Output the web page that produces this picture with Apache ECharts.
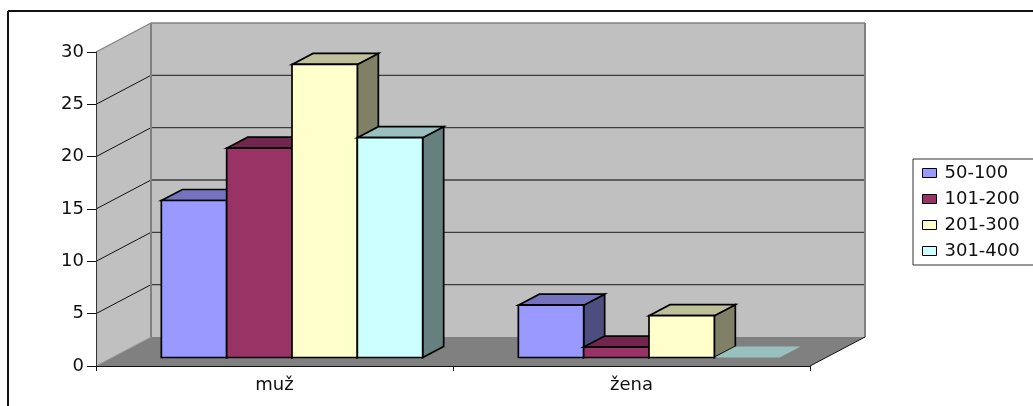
<!DOCTYPE html>
<html>
<head>
<meta charset="utf-8">
<style>
html, body { margin: 0; padding: 0; background: #fff; }
#chart { width: 1033px; height: 406px; }
</style>
<script src="https://cdn.jsdelivr.net/npm/echarts@6/dist/echarts.min.js"></script>
</head>
<body>
<div id="chart"></div>
<script>
var categories = ['muž', 'žena']
var seriesNames = ['50-100', '101-200', '201-300', '301-400']
var values50 = [15, 5]
var values101 = [20, 1]
var values201 = [28, 4]
var values301 = [21, 0]
var yTicks = [0, 5, 10, 15, 20, 25, 30]

var seriesValues = [values50, values101, values201, values301]
var frontColors = ['#9999ff', '#993366', '#ffffcc', '#ccffff']
var topColors = ['#7373bf', '#73264d', '#bfbf99', '#99bfbf']
var sideColors = ['#4d4d80', '#4d1a33', '#808066', '#668080']

// 3d look: how far the back wall sits from the axis plane, and the bar depth
var wallDx = 55, wallDy = -29
var barShiftX = 17.5, barShiftY = -8.5
var barDx = 21, barDy = -11
var barRatio = 0.183

var myChart = echarts.init(document.getElementById('chart'))

function poly(points, fill, stroke, width) {
    return {
        type: 'polygon',
        shape: { points: points },
        style: { fill: fill, stroke: stroke || 'none', lineWidth: width || 0 }
    }
}
function line(x1, y1, x2, y2, color, width) {
    return {
        type: 'line',
        shape: { x1: x1, y1: y1, x2: x2, y2: y2 },
        style: { stroke: color, lineWidth: width }
    }
}

function renderWalls(params, api) {
    var left = params.coordSys.x
    var right = left + params.coordSys.width
    var y0 = api.coord([0, 0])[1]
    var yMax = api.coord([0, 30])[1]
    var kids = [
        poly([[left, yMax], [left + wallDx, yMax + wallDy], [left + wallDx, y0 + wallDy], [left, y0]], '#c0c0c0'),
        poly([[left + wallDx, yMax + wallDy], [right + wallDx, yMax + wallDy], [right + wallDx, y0 + wallDy], [left + wallDx, y0 + wallDy]], '#c0c0c0'),
        poly([[left, y0], [left + wallDx, y0 + wallDy], [right + wallDx, y0 + wallDy], [right, y0]], '#808080')
    ]
    yTicks.forEach(function (t) {
        if (t === 0 || t === 30) return
        var y = api.coord([0, t])[1]
        kids.push(line(left, y, left + wallDx, y + wallDy, '#111', 1))
        kids.push(line(left + wallDx, y + wallDy, right + wallDx, y + wallDy, '#3c3c3c', 1.4))
    })
    kids.push(line(left, yMax, left + wallDx, yMax + wallDy, '#808080', 1.2))
    kids.push(line(left, y0, left + wallDx, y0 + wallDy, '#9a9a9a', 1))
    kids.push(line(left + wallDx, yMax + wallDy, right + wallDx, yMax + wallDy, '#808080', 1.6))
    kids.push(line(left + wallDx, yMax + wallDy, left + wallDx, y0 + wallDy, '#808080', 2))
    kids.push(line(right + wallDx, yMax + wallDy, right + wallDx, y0 + wallDy, '#808080', 2))
    kids.push(line(right, y0, right + wallDx, y0 + wallDy, '#111', 1))
    return { type: 'group', children: kids }
}

function barRenderer(index) {
    return function (params, api) {
        var band = api.size([1, 0])[0]
        var w = band * barRatio
        var base = api.coord([api.value(0), 0])
        var top = api.coord([api.value(0), api.value(1)])
        var x1 = base[0] + barShiftX + (index - 2) * w
        var x2 = x1 + w
        var yb = base[1] + barShiftY
        var yt = top[1] + barShiftY
        var stroke = api.value(1) === 0 ? 'none' : '#000'
        var lw = 1.7
        return {
            type: 'group',
            children: [
                poly([[x2, yt], [x2 + barDx, yt + barDy], [x2 + barDx, yb + barDy], [x2, yb]], sideColors[index], stroke, lw),
                poly([[x1, yt], [x1 + barDx, yt + barDy], [x2 + barDx, yt + barDy], [x2, yt]], topColors[index], stroke, lw),
                poly([[x1, yt], [x2, yt], [x2, yb], [x1, yb]], frontColors[index], stroke, lw)
            ]
        }
    }
}

var series = [{
    name: 'walls',
    type: 'custom',
    silent: true,
    renderItem: renderWalls,
    data: [[0, 0]]
}]
seriesNames.forEach(function (name, i) {
    series.push({
        name: name,
        type: 'custom',
        renderItem: barRenderer(i),
        encode: { x: 0, y: 1 },
        itemStyle: { color: frontColors[i], borderColor: '#000', borderWidth: 1 },
        data: seriesValues[i].map(function (v, c) { return [c, v] })
    })
})

var option = {
    animation: false,
    backgroundColor: '#fff',
    textStyle: { fontFamily: 'DejaVu Sans' },
    grid: { left: 96, right: 223, top: 52, height: 314 },
    graphic: [
        { type: 'line', z: 20, shape: { x1: 8, y1: 11, x2: 1033, y2: 11 }, style: { stroke: '#111', lineWidth: 2 } },
        { type: 'line', z: 20, shape: { x1: 8, y1: 11, x2: 8, y2: 406 }, style: { stroke: '#111', lineWidth: 2 } }
    ],
    legend: {
        orient: 'vertical',
        left: 913,
        top: 159,
        padding: [5, 40, 5, 9],
        itemWidth: 14,
        itemHeight: 9,
        itemGap: 8,
        borderColor: '#333',
        borderWidth: 1,
        backgroundColor: '#fff',
        textStyle: { color: '#111', fontSize: 18, fontFamily: 'DejaVu Sans', padding: [0, 0, 0, 3] },
        data: seriesNames.map(function (name, i) {
            return { name: name, icon: 'rect', itemStyle: { color: frontColors[i], borderColor: '#000', borderWidth: 1 } }
        })
    },
    xAxis: {
        type: 'category',
        z: 10,
        data: categories,
        axisLine: { lineStyle: { color: '#111', width: 1 } },
        axisTick: { show: true, length: 5, lineStyle: { color: '#111' } },
        axisLabel: { color: '#111', fontSize: 18, margin: 10 },
        splitLine: { show: false }
    },
    yAxis: {
        type: 'value',
        z: 10,
        min: 0,
        max: 30,
        interval: 5,
        axisLine: { show: true, lineStyle: { color: '#333', width: 1 } },
        axisTick: { show: true, length: 9, lineStyle: { color: '#111' } },
        axisLabel: { color: '#111', fontSize: 18, margin: 12 },
        splitLine: { show: false }
    },
    series: series
}
myChart.setOption(option)
</script>
</body>
</html>
